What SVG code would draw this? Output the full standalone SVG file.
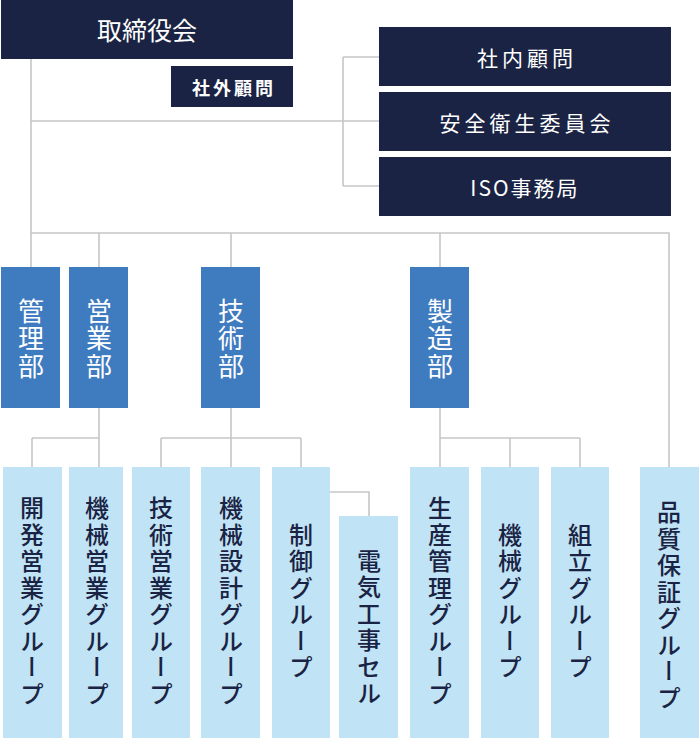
<svg xmlns="http://www.w3.org/2000/svg" width="700" height="740" viewBox="0 0 700 740">
<style>
.dark{fill:#1a2343}
.dept{fill:#3f7bbf}
.grp{fill:#c0e3f5}
.ln{fill:none;stroke:#c6c6c6;stroke-width:1.6}
text{font-family:"Noto Sans CJK JP","Noto Sans",sans-serif}
.wt{fill:#ffffff;text-anchor:middle;dominant-baseline:central}
.vd{fill:#ffffff;writing-mode:vertical-rl;text-anchor:middle;font-size:26px;letter-spacing:1.5px}
.vg{fill:#1a2343;writing-mode:vertical-rl;text-anchor:middle;font-size:24px;letter-spacing:2.5px;font-weight:500}
</style>
<rect width="700" height="740" fill="#ffffff"/>
<g id="connectors">
<path class="ln" d="M31 59V267M31 121H380M343 57V186M343 57H380M343 186H380M31 233H669V467M99 233V267M231 233V267M440 233V267"/>
<path class="ln" d="M99 408V438M32 438H99M32 438V467M99 438V467"/>
<path class="ln" d="M231 408V467M161 438H301M161 438V467M301 438V467M330 492H369V516"/>
<path class="ln" d="M440 408V467M440 438H580M510 438V467M580 438V467"/>
</g>
<g id="n-torishimariyakukai"><rect class="dark" x="1" y="0" width="292" height="59"/><text class="wt" x="147" y="29" font-size="25">取締役会</text></g>
<g id="n-shagaikomon"><rect class="dark" x="171" y="66" width="122" height="41"/><text class="wt" x="234" y="87" font-size="18" letter-spacing="3" font-weight="bold">社外顧問</text></g>
<g id="n-shanaikomon"><rect class="dark" x="379" y="27" width="292" height="59"/><text class="wt" x="527" y="57" font-size="21" letter-spacing="4">社内顧問</text></g>
<g id="n-anzen"><rect class="dark" x="379" y="92" width="292" height="59"/><text class="wt" x="527" y="122" font-size="21" letter-spacing="4">安全衛生委員会</text></g>
<g id="n-iso"><rect class="dark" x="379" y="157" width="292" height="59"/><text class="wt" x="525" y="187" font-size="21" letter-spacing="2">ISO事務局</text></g>
<g id="d-kanri"><rect class="dept" x="1" y="267" width="59" height="141"/><text class="vd" x="31" y="339">管理部</text></g>
<g id="d-eigyo"><rect class="dept" x="69" y="267" width="59" height="141"/><text class="vd" x="99" y="339">営業部</text></g>
<g id="d-gijutsu"><rect class="dept" x="201" y="267" width="59" height="141"/><text class="vd" x="231" y="339">技術部</text></g>
<g id="d-seizo"><rect class="dept" x="410" y="267" width="59" height="141"/><text class="vd" x="440" y="339">製造部</text></g>
<g id="g-kaihatsu"><rect class="grp" x="3" y="467" width="59" height="271"/><text class="vg" x="32" y="602">開発営業グループ</text></g>
<g id="g-kikaieigyo"><rect class="grp" x="69" y="467" width="54" height="271"/><text class="vg" x="97" y="602">機械営業グループ</text></g>
<g id="g-gijutsueigyo"><rect class="grp" x="132" y="467" width="58" height="271"/><text class="vg" x="161" y="602">技術営業グループ</text></g>
<g id="g-kikaisekkei"><rect class="grp" x="201" y="467" width="59" height="271"/><text class="vg" x="231" y="602">機械設計グループ</text></g>
<g id="g-seigyo"><rect class="grp" x="272" y="467" width="58" height="271"/><text class="vg" x="301" y="602">制御グループ</text></g>
<g id="g-denki"><rect class="grp" x="339" y="516" width="59" height="222"/><text class="vg" x="369" y="628">電気工事セル</text></g>
<g id="g-seisankanri"><rect class="grp" x="410" y="467" width="59" height="271"/><text class="vg" x="440" y="602">生産管理グループ</text></g>
<g id="g-kikai"><rect class="grp" x="481" y="467" width="58" height="271"/><text class="vg" x="510" y="602">機械グループ</text></g>
<g id="g-kumitate"><rect class="grp" x="551" y="467" width="58" height="271"/><text class="vg" x="580" y="602">組立グループ</text></g>
<g id="g-hinshitsu"><rect class="grp" x="640" y="467" width="59" height="271"/><text class="vg" x="669" y="606">品質保証グループ</text></g>
</svg>
